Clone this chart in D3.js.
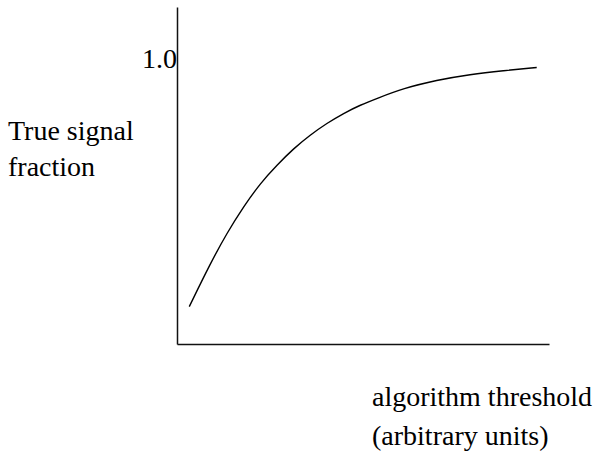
<!DOCTYPE html>
<html>
<head>
<meta charset="utf-8">
<script src="https://cdn.jsdelivr.net/npm/d3@7"></script>
<style>
  body { margin: 0; background: #fff; }
</style>
</head>
<body>
<div id="chart"></div>
<script>
// curve (threshold in arbitrary units, fraction of true signal)
var threshold = [0.33, 0.90, 1.34, 1.79, 2.24, 2.69, 3.14, 3.58, 4.03, 4.48, 4.93, 5.38, 6.08, 6.98, 7.88, 8.77, 9.67];
var fraction  = [0.131, 0.283, 0.388, 0.481, 0.563, 0.627, 0.685, 0.732, 0.773, 0.808, 0.837, 0.860, 0.895, 0.924, 0.944, 0.957, 0.968];
var yTicks = [1.0];
var yLabel = ["True signal", "fraction"];
var xLabel = ["algorithm threshold", "(arbitrary units)"];

var serif = "Liberation Serif, Times New Roman, Times, serif";

var svgWidth = 599;
var svgHeight = 452;

var svg = d3.select("#chart")
  .append("svg")
  .attr("width", svgWidth)
  .attr("height", svgHeight)
  .attr("font-family", serif);

var xScale = d3.scaleLinear()
  .domain([0, 10])
  .range([177, 549]);

var yScale = d3.scaleLinear()
  .domain([0, 1.18])
  .range([344, 7]);

// y axis: plain line with the single "1.0" label
var leftAxis = d3.axisLeft(yScale)
  .tickValues(yTicks)
  .tickFormat(d3.format(".1f"))
  .tickSize(0)
  .tickSizeOuter(0)
  .tickPadding(0);

var yAxis = svg.append("g")
  .attr("transform", `translate(${xScale(0)}, 0)`)
  .call(leftAxis)
  .attr("font-family", serif)
  .attr("font-size", 28);

yAxis.select(".domain").attr("stroke", "#111").attr("stroke-width", 1.5);
yAxis.selectAll("text")
  .attr("font-family", serif)
  .attr("font-size", 28)
  .attr("fill", "#000");

// x axis: no ticks at all
var bottomAxis = d3.axisBottom(xScale)
  .tickValues([])
  .tickSizeOuter(0);

var xAxis = svg.append("g")
  .attr("transform", `translate(0, ${yScale(0)})`)
  .call(bottomAxis);

xAxis.select(".domain").attr("stroke", "#111").attr("stroke-width", 1.5);

// the curve
var points = threshold.map((t, i) => [t, fraction[i]]);

var line = d3.line()
  .x(d => xScale(d[0]))
  .y(d => yScale(d[1]))
  .curve(d3.curveBasis);

svg.append("path")
  .datum(points)
  .attr("d", line)
  .attr("fill", "none")
  .attr("stroke", "#000")
  .attr("stroke-width", 1.4);

// axis titles
var yTitle = svg.append("text")
  .attr("x", 8)
  .attr("y", 140)
  .attr("font-family", serif)
  .attr("font-size", 28)
  .attr("fill", "#000");
yTitle.selectAll("tspan")
  .data(yLabel)
  .enter()
  .append("tspan")
  .attr("x", 8)
  .attr("dy", (d, i) => i === 0 ? 0 : 36)
  .text(d => d);

var xTitle = svg.append("text")
  .attr("x", 372)
  .attr("y", 406)
  .attr("font-family", serif)
  .attr("font-size", 28)
  .attr("fill", "#000");
xTitle.selectAll("tspan")
  .data(xLabel)
  .enter()
  .append("tspan")
  .attr("x", 372)
  .attr("dy", (d, i) => i === 0 ? 0 : 39)
  .text(d => d);
</script>
</body>
</html>
